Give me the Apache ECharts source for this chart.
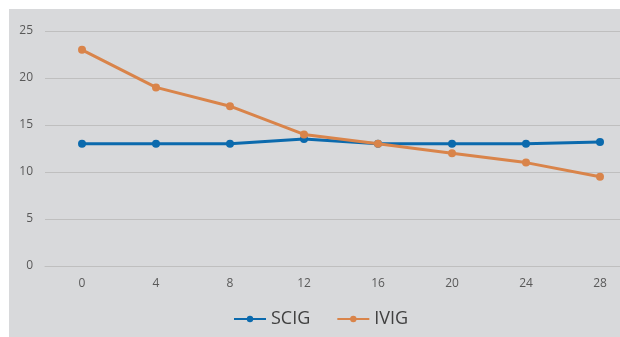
<!DOCTYPE html>
<html>
<head>
<meta charset="utf-8">
<script src="https://cdn.jsdelivr.net/npm/echarts@6/dist/echarts.min.js"></script>
<style>
html,body{margin:0;padding:0;background:#ffffff;width:620px;height:337px;overflow:hidden;position:relative;}
#chart{position:absolute;left:9px;top:9px;width:628px;height:328px;background:#d8d9db;}
</style>
</head>
<body>
<div id="chart"></div>
<script>
var categories = ['0','4','8','12','16','20','24','28'];
var scig = [13, 13, 13, 13.5, 13, 13, 13, 13.2];
var ivig = [23, 19, 17, 14, 13, 12, 11, 9.5];
var yTicks = { min: 0, max: 25, interval: 5 };

var chart = echarts.init(document.getElementById('chart'), null, {renderer: 'canvas'});
chart.setOption({
  backgroundColor: 'transparent',
  animation: false,
  grid: { left: 36, top: 22, bottom: 71, right: 0 },
  legend: {
    top: 301,
    left: 224,
    padding: 0,
    itemWidth: 32,
    itemHeight: 8,
    itemGap: 26,
    textStyle: { fontFamily: 'Open Sans', fontSize: 18, color: '#404040' },
    data: ['SCIG', 'IVIG']
  },
  xAxis: {
    type: 'category',
    data: categories,
    boundaryGap: true,
    axisLine: { show: true, lineStyle: { color: '#bfbfbf', width: 1 } },
    axisTick: { show: false },
    axisLabel: { color: '#595959', fontFamily: 'Open Sans', fontSize: 12, margin: 12 }
  },
  yAxis: {
    type: 'value',
    min: yTicks.min, max: yTicks.max, interval: yTicks.interval,
    axisLine: { show: false },
    axisTick: { show: false },
    axisLabel: { color: '#595959', fontFamily: 'Open Sans', fontSize: 12, margin: 12 },
    splitLine: { lineStyle: { color: '#bfbfbf', width: 1 } }
  },
  series: [
    {
      name: 'SCIG', type: 'line', data: scig,
      symbol: 'circle', symbolSize: 8,
      lineStyle: { color: '#0b6aad', width: 3 },
      itemStyle: { color: '#0b6aad' },
      z: 2
    },
    {
      name: 'IVIG', type: 'line', data: ivig,
      symbol: 'circle', symbolSize: 8,
      lineStyle: { color: '#d9844a', width: 3 },
      itemStyle: { color: '#d9844a' },
      z: 3
    }
  ]
});
</script>
</body>
</html>
